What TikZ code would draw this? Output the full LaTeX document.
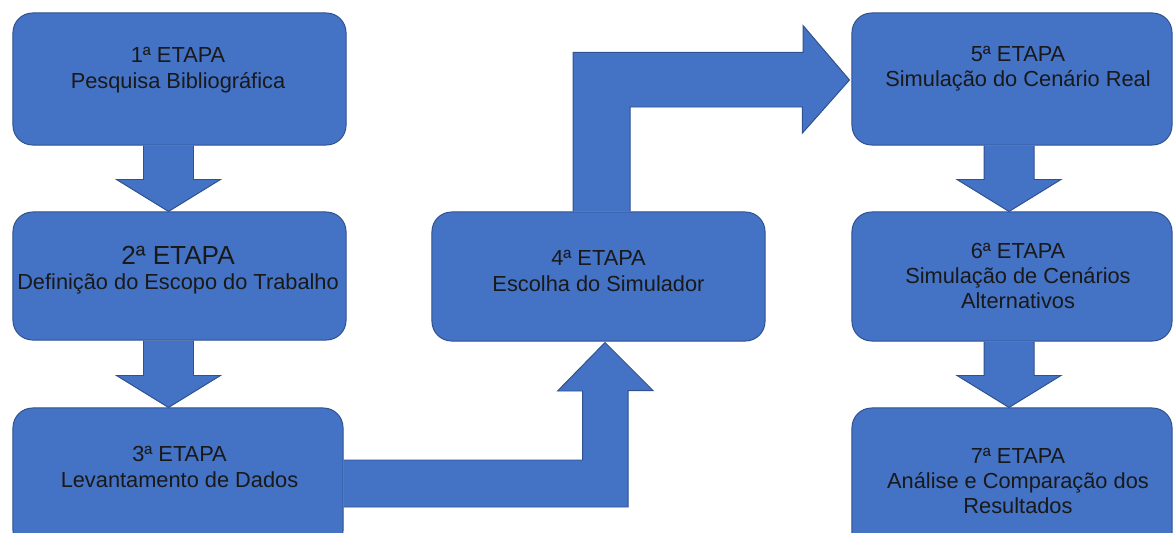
\documentclass[tikz,border=0pt]{standalone}
\usepackage{fontspec}
\setmainfont{Liberation Sans}
\usepackage{xcolor}
\usepackage{tikz}
\usetikzlibrary{calc,backgrounds}
\definecolor{stageblue}{RGB}{68,114,196}
\definecolor{stageline}{RGB}{47,82,143}

% block arrow pointing down, from box #1 to box #2, shifted by #3
\newcommand{\downblock}[3]{%
  \filldraw[block arrow] ($(#1.south)+(#3-25,0)$) -- ($(#1.south |- #2.north)+(#3-25,-32)$)
    -- ($(#1.south |- #2.north)+(#3-52,-32)$) -- ($(#1.south |- #2.north)+(#3,0)$)
    -- ($(#1.south |- #2.north)+(#3+52,-32)$) -- ($(#1.south |- #2.north)+(#3+25,-32)$)
    -- ($(#1.south)+(#3+25,0)$);}

\begin{document}
\begin{tikzpicture}[x=0.025cm,y=-0.025cm,
        stage/.style={rectangle,draw=stageline,fill=stageblue,line width=0.7pt,
          rounded corners=14pt,inner sep=0pt},
        stage text/.style={align=center,text=black!90,
          font=\fontsize{15.5}{18}\selectfont},
        block arrow/.style={draw=stageline,fill=stageblue,line width=0.7pt}
      ]
      \useasboundingbox (0,0) rectangle (1175,532);
      \clip (0,0) rectangle (1175,532);

      % boxes, left column
      \node[stage,minimum width=8.325cm,minimum height=3.3cm]  (b1) at (179.5,79)  {};
      \node[stage,minimum width=8.325cm,minimum height=3.2cm]  (b2) at (179.5,276) {};
      \node[stage,minimum width=8.25cm,minimum height=3.55cm]  (b3) at (178,479)   {};
      % middle
      \node[stage,minimum width=8.325cm,minimum height=3.225cm] (b4) at (598.5,276.5) {};
      % right column
      \node[stage,minimum width=8cm,minimum height=3.3cm]   (b5) at (1012,79)    {};
      \node[stage,minimum width=8cm,minimum height=3.225cm] (b6) at (1012,276.5) {};
      \node[stage,minimum width=8cm,minimum height=3.675cm] (b7) at (1012,481.5) {};

      % texts
      \node[stage text] (t1) at (178,70) {1ª ETAPA\\Pesquisa Bibliográfica};
      \node[stage text] (t2) at (178,270) {{\fontsize{18.6}{20}\selectfont 2ª ETAPA}\\Definição do Escopo do Trabalho};
      \node[stage text] (t3) at (179.5,467) {3ª ETAPA\\Levantamento de Dados};
      \node[stage text] (t4) at (598.5,271) {4ª ETAPA\\Escolha do Simulador};
      \node[stage text] (t5) at (1018,69) {5ª ETAPA\\Simulação do Cenário Real};
      \node[stage text] (t6) at (1018,276) {6ª ETAPA\\Simulação de Cenários\\Alternativos};
      \node[stage text] (t7) at (1018,481) {7ª ETAPA\\Análise e Comparação dos\\Resultados};

      \coordinate (tip34) at ($(b4.south)+(6.5,1)$);
      \coordinate (tip45) at ($(b5.west)+(-2,1)$);

      \begin{scope}[on background layer]
        % straight arrows
        \downblock{b1}{b2}{-11}
        \downblock{b2}{b3}{-11}
        \downblock{b5}{b6}{-3}
        \downblock{b6}{b7}{-3}

        % bent arrow 3 -> 4
        \filldraw[block arrow] ($(b3.east)+(0,-19)$) -| ++(239,-69) -- ++(-25,0)
          -- (tip34) -- ++(48,48) -- ++(-25,0) |- ($(b3.east)+(0,28)$);

        % bent arrow 4 -> 5
        \filldraw[block arrow] ($(b4.north)+(-25.5,0)$) |- ++(230,-159) -- ++(0,-27)
          -- (tip45) -- ++(-47,53) -- ++(0,-26) -| ($(b4.north)+(31.5,0)$);
      \end{scope}
    \end{tikzpicture}
\end{document}
